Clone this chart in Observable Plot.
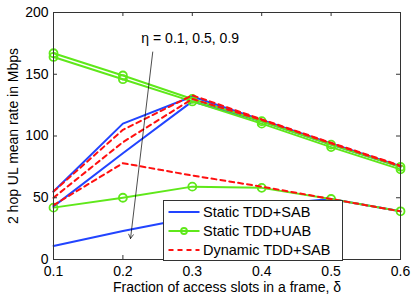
<!DOCTYPE html>
<html><head><meta charset="utf-8">
<script src="https://cdn.jsdelivr.net/npm/d3@7"></script>
<script src="https://cdn.jsdelivr.net/npm/@observablehq/plot@0.6"></script>
<style>
body{margin:0;background:#fff;}
#chart{position:relative;width:415px;height:298px;}
#legend{position:absolute;left:0;top:0;pointer-events:none;}
</style>
</head><body><div id="chart"></div>
<script>
// x values: fraction of access slots in a frame
const delta = [0.1, 0.2, 0.3, 0.4, 0.5, 0.6];
const etas = [0.1, 0.5, 0.9];
// Static TDD + SAB, eta = 0.1 / 0.5 / 0.9
const staticSAB_01 = [55, 110, 132, 113, 94, 75.5];
const staticSAB_05 = [43, 86, 128, 112, 93, 75];
const staticSAB_09 = [11, 23, 34, 44, 49, 39];
// Static TDD + UAB
const staticUAB_01 = [167, 149, 130, 112, 93, 75];
const staticUAB_05 = [164, 146, 128, 110, 91, 73];
const staticUAB_09 = [42, 50, 59, 58, 49, 39];
// Dynamic TDD + SAB
const dynamicSAB_01 = [55, 105, 133, 113.5, 94.5, 76];
const dynamicSAB_05 = [50, 95, 130, 113, 94, 75.5];
const dynamicSAB_09 = [44, 78, 68, 59, 49, 39];

const schemes = ["Static TDD+SAB", "Static TDD+UAB", "Dynamic TDD+SAB"];
const xTicks = [0.1, 0.2, 0.3, 0.4, 0.5, 0.6];
const yTicks = [0, 50, 100, 150, 200];
const annotation = "\u03b7 = 0.1, 0.5, 0.9";
const arrowFrom = {x: 0.243, y: 168};
const arrowTo = {x: 0.211, y: 17};
const labelAt = {x: 0.297, y: 179};

const seriesValues = {
  "Static TDD+SAB": [staticSAB_01, staticSAB_05, staticSAB_09],
  "Static TDD+UAB": [staticUAB_01, staticUAB_05, staticUAB_09],
  "Dynamic TDD+SAB": [dynamicSAB_01, dynamicSAB_05, dynamicSAB_09]
};
const rows = schemes.flatMap(s => seriesValues[s].flatMap((vals, k) =>
  vals.map((v, i) => ({scheme: s, eta: etas[k], key: s + " " + etas[k], x: delta[i], y: v}))));

const color = {"Static TDD+SAB": "#2244ff", "Static TDD+UAB": "#5fe81a", "Dynamic TDD+SAB": "#ff1010"};
const dash = "5,4";
const of = s => rows.filter(d => d.scheme === s);

const plot = Plot.plot({
  width: 415, height: 298,
  marginLeft: 53, marginRight: 15, marginTop: 12, marginBottom: 39,
  style: {fontFamily: "'Liberation Sans', Arial, sans-serif", fontSize: "14px", color: "#000", background: "#fff"},
  x: {domain: [0.1, 0.6]},
  y: {domain: [0, 200]},
  marks: [
    Plot.line(of("Static TDD+SAB"), {x: "x", y: "y", z: "key", stroke: color["Static TDD+SAB"], strokeWidth: 2}),
    Plot.line(of("Static TDD+UAB"), {x: "x", y: "y", z: "key", stroke: color["Static TDD+UAB"], strokeWidth: 2}),
    Plot.dot(of("Static TDD+UAB"), {x: "x", y: "y", r: 4, stroke: color["Static TDD+UAB"], strokeWidth: 1.8, fill: "none"}),
    Plot.line(of("Dynamic TDD+SAB"), {x: "x", y: "y", z: "key", stroke: color["Dynamic TDD+SAB"], strokeWidth: 2, strokeDasharray: dash}),
    Plot.arrow([0], {x1: () => arrowFrom.x, y1: () => arrowFrom.y, x2: () => arrowTo.x, y2: () => arrowTo.y, stroke: "#000", strokeWidth: 0.7, headLength: 10}),
    Plot.text([annotation], {x: () => labelAt.x, y: () => labelAt.y, text: d => d, fontSize: 14, fill: "#000"}),
    Plot.frame({stroke: "#333"}),
    Plot.tickX(xTicks, {x: d => d, insetTop: 243, stroke: "#333"}),
    Plot.tickX(xTicks, {x: d => d, insetBottom: 243, stroke: "#333"}),
    Plot.tickY(yTicks, {y: d => d, insetRight: 343, stroke: "#333"}),
    Plot.tickY(yTicks, {y: d => d, insetLeft: 343, stroke: "#333"}),
    Plot.axisX(xTicks, {tickSize: 0, tickPadding: 7, tickFormat: d => String(d), label: "Fraction of access slots in a frame, \u03b4", labelAnchor: "center", labelArrow: "none", labelOffset: 32, fontSize: 14}),
    Plot.axisY(yTicks, {tickSize: 0, tickPadding: 5, label: "2 hop UL mean rate in Mbps", labelAnchor: "center", labelArrow: "none", labelOffset: 45, fontSize: 14})
  ]
});
const chart = document.getElementById("chart");
chart.appendChild(plot);

// legend box inside the axes (lower middle), as an overlay svg
const lsvg = d3.select(chart).append("svg").attr("id", "legend").attr("width", 415).attr("height", 298);
const lg = lsvg.append("g").attr("transform", "translate(163.5,200.5)");
lg.append("rect").attr("width", 179).attr("height", 60).attr("fill", "#fff").attr("stroke", "#333").attr("stroke-width", 1);
schemes.forEach((s, i) => {
  const y = 11.5 + i * 19;
  const row = lg.append("g").attr("transform", `translate(0,${y})`);
  row.append("line").attr("x1", 5).attr("x2", 36).attr("y1", 0).attr("y2", 0)
    .attr("stroke", color[s]).attr("stroke-width", 2)
    .attr("stroke-dasharray", s.startsWith("Dynamic") ? dash : null);
  if (s === "Static TDD+UAB") row.append("circle").attr("cx", 20.5).attr("cy", 0).attr("r", 3)
    .attr("fill", "none").attr("stroke", color[s]).attr("stroke-width", 1.8);
  row.append("text").attr("x", 39.5).attr("y", 0).attr("dy", "0.35em")
    .attr("text-anchor", "start")
    .attr("font-family", "'Liberation Sans', Arial, sans-serif")
    .attr("font-size", 14.5).attr("fill", "#000").text(s);
});
</script>
</body></html>
